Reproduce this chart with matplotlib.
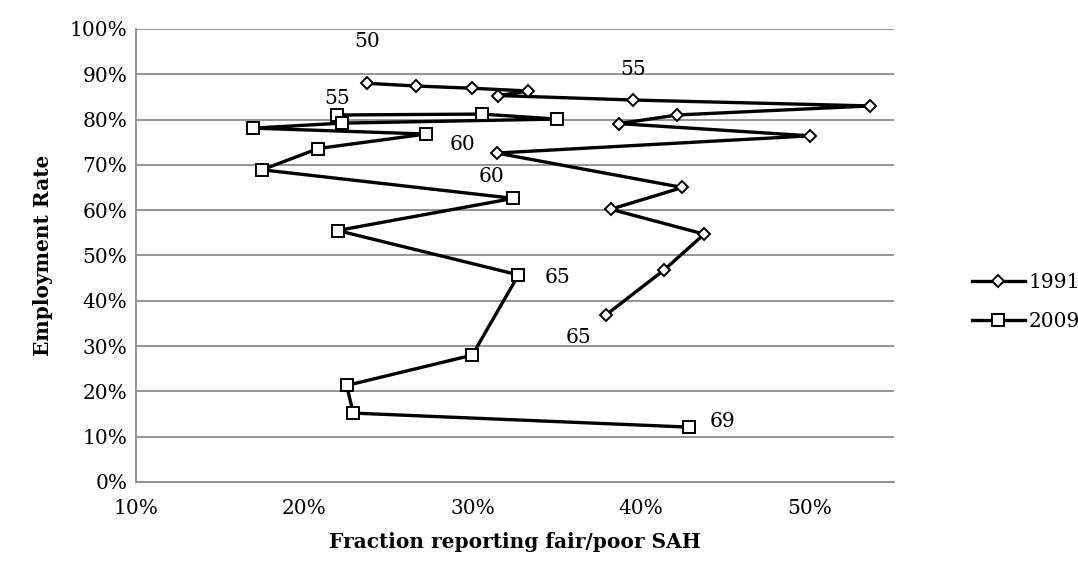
import matplotlib
matplotlib.use("Agg")
import matplotlib.pyplot as plt
from matplotlib.ticker import PercentFormatter

plt.rcParams['font.family'] = ['DejaVu Serif']

# 1991, ages 50-65
x_1991 = [23.74, 26.62, 29.98, 33.31, 31.53, 39.55, 53.61, 42.13, 38.70, 50.05,
          31.43, 42.46, 38.20, 43.75, 41.37, 37.93]
y_1991 = [88.0, 87.4, 86.9, 86.3, 85.3, 84.3, 83.0, 81.0, 79.1, 76.4,
          72.6, 65.0, 60.2, 54.7, 46.8, 36.9]
# 2009, ages 55-69
x_2009 = [21.96, 30.54, 35.00, 22.22, 16.97, 27.23, 20.83, 17.50, 32.42, 21.98,
          32.72, 29.98, 22.52, 22.91, 42.86]
y_2009 = [81.0, 81.2, 80.1, 79.2, 78.1, 76.8, 73.6, 68.9, 62.6, 55.5,
          45.7, 28.0, 21.3, 15.2, 12.1]

fig = plt.figure(figsize=(10.78, 5.67), dpi=100)
ax = fig.add_axes([0.126, 0.150, 0.703, 0.799])

ax.plot(x_1991, y_1991, color="black", lw=2.4, marker="D", ms=6,
        mfc="white", mec="black", mew=1.4, label="1991", zorder=3)
ax.plot(x_2009, y_2009, color="black", lw=2.4, marker="s", ms=8,
        mfc="white", mec="black", mew=1.4, label="2009", zorder=3)

fs = 14.5
# age labels
ax.annotate("50", (x_1991[0], y_1991[0]), xytext=(0, 26), textcoords="offset points", ha="center", fontsize=fs)
ax.annotate("55", (x_1991[5], y_1991[5]), xytext=(0, 18), textcoords="offset points", ha="center", fontsize=fs)
ax.annotate("60", (x_1991[10], y_1991[10]), xytext=(-25, 2), textcoords="offset points", ha="center", fontsize=fs)
ax.annotate("65", (x_1991[15], y_1991[15]), xytext=(-20, -20), textcoords="offset points", ha="center", fontsize=fs)
ax.annotate("55", (x_2009[0], y_2009[0]), xytext=(0, 8), textcoords="offset points", ha="center", fontsize=fs)
ax.annotate("60", (x_2009[8], y_2009[8]), xytext=(-16, 12), textcoords="offset points", ha="center", fontsize=fs)
ax.annotate("65", (x_2009[10], y_2009[10]), xytext=(28, -6), textcoords="offset points", ha="center", fontsize=fs)
ax.annotate("69", (x_2009[14], y_2009[14]), xytext=(24, 0), textcoords="offset points", ha="center", fontsize=fs)

ax.set_xlim(10, 55)
ax.set_ylim(0, 100)
ax.set_xticks([10, 20, 30, 40, 50])
ax.set_yticks(range(0, 101, 10))
ax.xaxis.set_major_formatter(PercentFormatter(decimals=0))
ax.yaxis.set_major_formatter(PercentFormatter(decimals=0))
ax.tick_params(length=0, labelsize=14.5, pad=6)
ax.tick_params(axis="x", pad=12)
ax.grid(axis="y", color="#8c8c8c", lw=1.3)
ax.set_axisbelow(True)
for s in ["top", "right"]:
    ax.spines[s].set_visible(False)
for s in ["left", "bottom"]:
    ax.spines[s].set_color("#8c8c8c")
    ax.spines[s].set_linewidth(1.3)

ax.set_xlabel("Fraction reporting fair/poor SAH", fontsize=14.5, fontweight="bold", labelpad=10)
ax.set_ylabel("Employment Rate", fontsize=14.5, fontweight="bold", labelpad=12)

fig.legend(loc="center left", bbox_to_anchor=(0.885, 0.467), frameon=False,
           fontsize=14.5, handlelength=2.6, handletextpad=0.2, labelspacing=1.0)

fig.savefig("out.png", dpi=100)
